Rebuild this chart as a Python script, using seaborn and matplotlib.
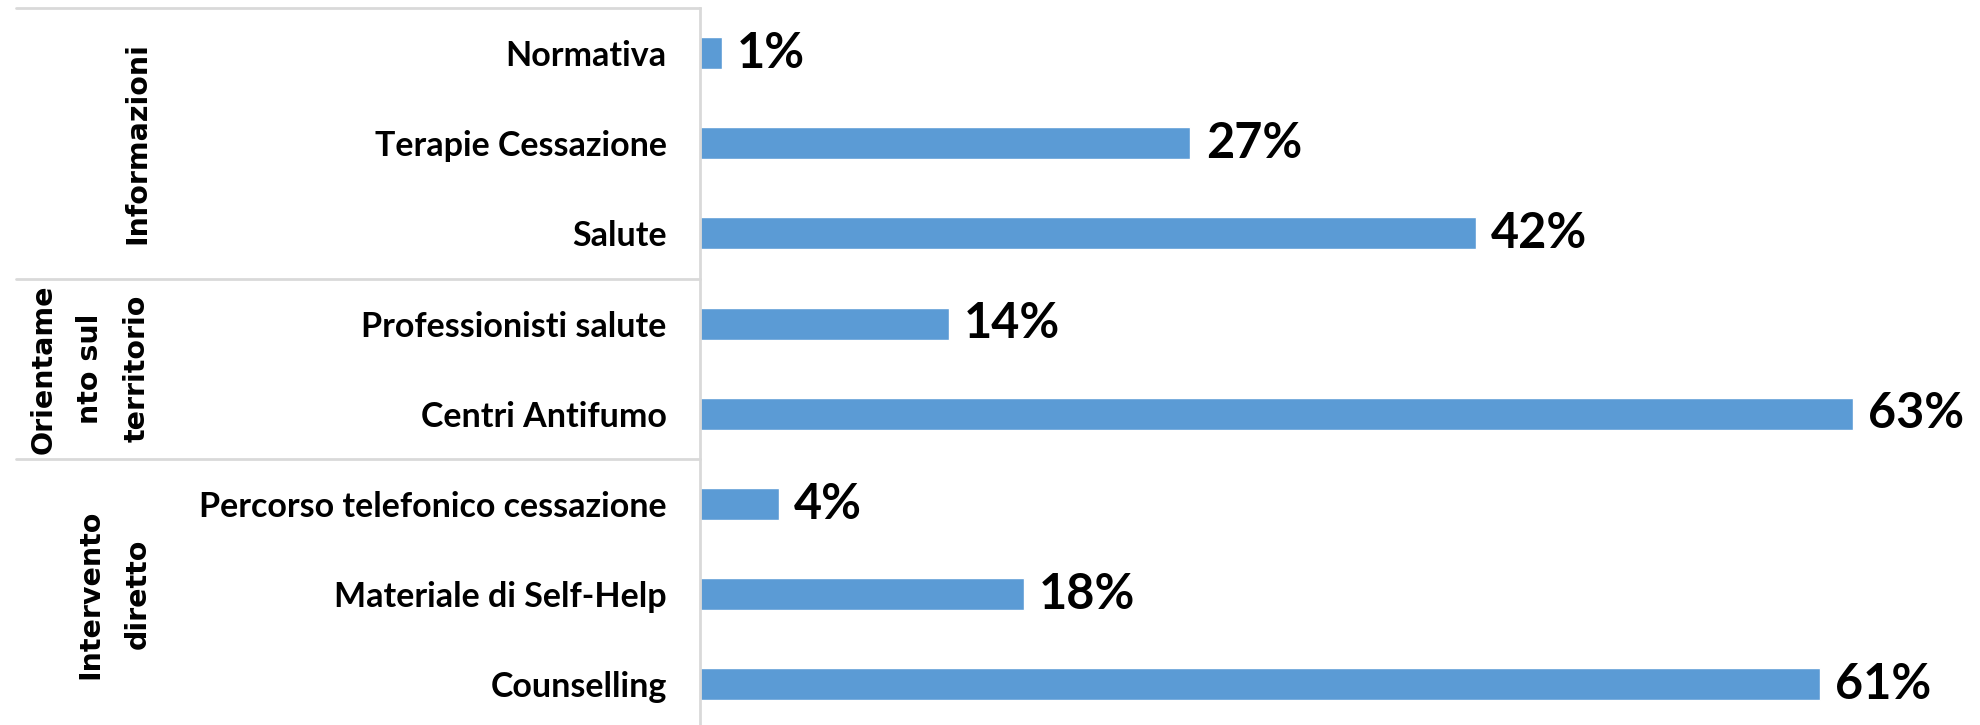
import numpy as np
import pandas as pd
import matplotlib
matplotlib.use("Agg")
import matplotlib.pyplot as plt
import matplotlib.transforms as mtransforms
import seaborn as sns

# data
categories = ["Normativa", "Terapie Cessazione", "Salute",
              "Professionisti salute", "Centri Antifumo",
              "Percorso telefonico cessazione", "Materiale di Self-Help", "Counselling"]
values = [1.2, 26.8, 42.4, 13.6, 63.0, 4.3, 17.7, 61.2]
value_labels = ["1%", "27%", "42%", "14%", "63%", "4%", "18%", "61%"]
groups = ["Informazioni", "Orientame\nnto sul\nterritorio", "Intervento\ndiretto"]
group_sizes = [3, 2, 3]

sns.set_theme(style="white")
plt.rcParams["font.family"] = ["Lato", "DejaVu Sans"]

df = pd.DataFrame({"cat": categories, "val": values})

fig = plt.figure(figsize=(19.81, 7.25), dpi=100)
W, H = 1981, 725
ax = fig.add_axes([700 / W, -4.5 / H, 1 - 700 / W, 721.5 / H])

sns.barplot(data=df, x="val", y="cat", orient="h", color="#5B9BD5",
            width=0.355, saturation=1, ax=ax)

ax.set_xlim(0, 70)
ax.set_ylim(len(categories) - 0.5, -0.5)
ax.set_xlabel("")
ax.set_ylabel("")
ax.set_xticks([])
ax.tick_params(axis="y", length=0, pad=24)
for lab in ax.get_yticklabels():
    lab.set_fontsize(24.5)
    lab.set_fontweight("bold")
    lab.set_color("black")

for s in ["top", "right", "bottom"]:
    ax.spines[s].set_visible(False)
ax.spines["left"].set_color("#d9d9d9")
ax.spines["left"].set_linewidth(2)

# value labels
for i, (v, t) in enumerate(zip(values, value_labels)):
    ax.annotate(t, xy=(v, i), xytext=(11, 0), textcoords="offset points",
                ha="left", va="center", fontsize=35, fontweight="bold", color="black")

# group separators and labels on the left
trans = mtransforms.blended_transform_factory(fig.transFigure, ax.transData)
x0, x1 = 16 / W, 700 / W
edges = [-0.5]
for n in group_sizes:
    edges.append(edges[-1] + n)
for e in edges[:-1]:
    ax.plot([x0, x1], [e, e], color="#d9d9d9", lw=2, transform=trans, clip_on=False)

group_x_px = [137, 90, 114]  # horizontal centre of each rotated label block
for g, gx, a, b in zip(groups, group_x_px, edges[:-1], edges[1:]):
    ax.text(gx / W, (a + b) / 2, g, transform=trans, rotation=90,
            rotation_mode="anchor", ha="center", va="center",
            multialignment="center", fontsize=20.5, fontweight="bold",
            family="DejaVu Sans", linespacing=1.85, color="black")

fig.savefig("out.png", dpi=100)
